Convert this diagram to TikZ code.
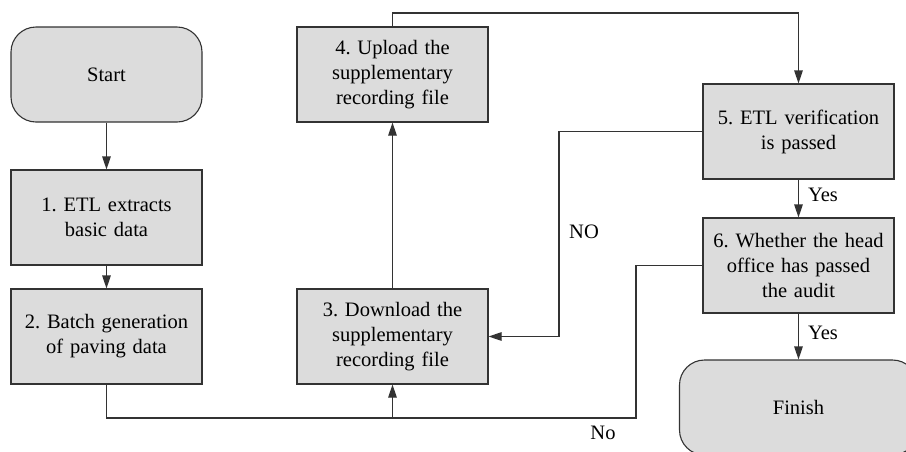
\documentclass[tikz,border=0pt]{standalone}
\usepackage{fontspec}
\setmainfont{Liberation Serif}
\usetikzlibrary{arrows.meta}
\definecolor{boxfill}{HTML}{DCDCDC}
\definecolor{edge}{HTML}{333333}
\frenchspacing
\begin{document}
\begin{tikzpicture}[x=1pt,y=-1pt,
  every node/.style={font=\fontsize{20.5}{25}\selectfont},
  stepbox/.style={draw=edge,line width=1.1pt,fill=boxfill,minimum width=191pt,minimum height=95pt,
    text width=189pt,align=center,inner sep=0pt},
  termbox/.style={stepbox,rounded corners=25pt},
  conn/.style={draw=edge,line width=1.1pt},
  arr/.style={conn,-{Triangle[length=13pt,width=8.5pt]}},
  lbl/.style={inner sep=0pt}]
\clip (0,0) rectangle (906,451);
\fill[white] (0,0) rectangle (906,451);

\node[termbox] (start) at (106.5,74.5) {Start};
\node[stepbox] (b1) at (106.5,217.5) {1. ETL extracts\\basic data};
\node[stepbox] (b2) at (106.5,336.5) {2. Batch generation\\of paving data};
\node[stepbox] (b4) at (392.5,74.5) {4. Upload the\\supplementary\\recording file};
\node[stepbox] (b3) at (392.5,336.5) {3. Download the\\supplementary\\recording file};
\node[stepbox] (b5) at (798.5,131.5) {5. ETL verification\\is passed};
\node[stepbox] (b6) at (798.5,265.5) {6. Whether the head\\office has passed\\the audit};
\node[termbox,minimum width=238pt] (fin) at (798.5,407.5) {Finish};

\coordinate (nobot) at (636,418);
\coordinate (nox) at (559,232);
\coordinate (top) at (392.5,13);

\draw[arr] (start) -- (b1);
\draw[arr] (b1) -- (b2);
\draw[arr] (b3) -- (b4);
\draw[arr] (b4.north) -- (top) -| (b5.north);
\draw[arr] (b5.west) -| (nox) |- (b3.east);
\draw[arr] (b5) -- (b6);
\draw[arr] (b6) -- (fin);
\draw[conn] (b6.west) -| (nobot) -- (b2.south |- nobot) -- (b2.south);
\draw[arr] (b3.south |- nobot) -- (b3.south);

\node[lbl] (lno) at (584,232) {NO};
\node[lbl] (ly1) at (823,195) {Yes};
\node[lbl] (ly2) at (823,333) {Yes};
\node[lbl] (lno2) at (603,433) {No};
\end{tikzpicture}
\end{document}
